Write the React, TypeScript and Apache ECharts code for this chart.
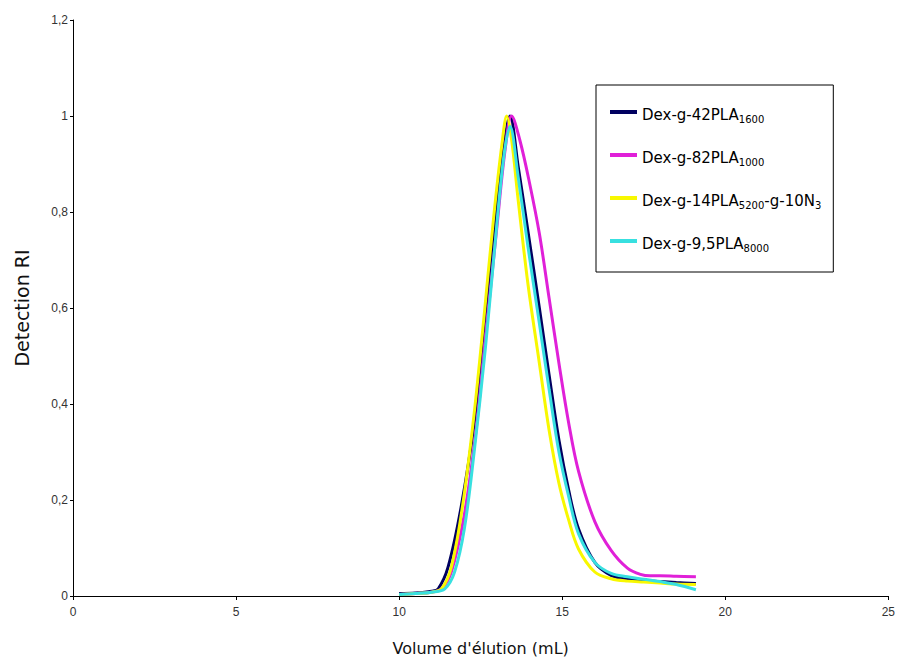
import React, { useEffect, useRef } from "react";
import * as echarts from "echarts";

const navyX = [10.0, 10.5, 11.0, 11.2, 11.5, 11.9, 12.3, 12.6, 12.95, 13.2, 13.4, 13.65, 13.95, 14.3, 14.6, 14.9, 15.2, 15.5, 16.0, 16.5, 17.0, 17.5, 18.0, 18.5, 19.1];
const navyY = [0.005, 0.006, 0.01, 0.015, 0.06, 0.185, 0.36, 0.56, 0.78, 0.93, 1.0, 0.895, 0.76, 0.6, 0.46, 0.325, 0.22, 0.14, 0.07, 0.043, 0.035, 0.032, 0.03, 0.028, 0.026];

const magentaX = [10.0, 10.5, 11.0, 11.3, 11.6, 12.0, 12.35, 12.65, 13.0, 13.25, 13.45, 13.7, 14.0, 14.3, 14.6, 14.9, 15.2, 15.5, 16.0, 16.5, 17.0, 17.4, 17.7, 18.0, 18.5, 19.1];
const magentaY = [0.003, 0.005, 0.008, 0.015, 0.05, 0.17, 0.34, 0.54, 0.77, 0.93, 1.0, 0.95, 0.86, 0.755, 0.62, 0.485, 0.36, 0.26, 0.155, 0.095, 0.058, 0.045, 0.042, 0.042, 0.041, 0.04];

const yellowX = [10.0, 10.5, 11.0, 11.3, 11.6, 11.95, 12.3, 12.6, 12.9, 13.15, 13.3, 13.45, 13.65, 13.95, 14.3, 14.6, 14.9, 15.2, 15.5, 16.0, 16.5, 17.0, 17.5, 18.0, 18.5, 19.1];
const yellowY = [0.003, 0.005, 0.008, 0.015, 0.06, 0.19, 0.38, 0.58, 0.79, 0.94, 1.0, 0.95, 0.825, 0.65, 0.485, 0.345, 0.235, 0.158, 0.098, 0.05, 0.036, 0.031, 0.029, 0.027, 0.025, 0.024];

const cyanX = [10.0, 10.5, 11.0, 11.4, 11.7, 12.0, 12.3, 12.65, 12.95, 13.2, 13.4, 13.65, 13.95, 14.3, 14.6, 14.9, 15.2, 15.5, 16.0, 16.5, 17.0, 17.5, 18.0, 18.5, 19.1];
const cyanY = [0.003, 0.005, 0.008, 0.015, 0.05, 0.14, 0.3, 0.52, 0.74, 0.91, 0.978, 0.873, 0.728, 0.568, 0.43, 0.3, 0.207, 0.13, 0.07, 0.047, 0.04, 0.035, 0.03, 0.024, 0.013];

const seriesNames = ["Dex-g-42PLA1600", "Dex-g-82PLA1000", "Dex-g-14PLA5200-g-10N3", "Dex-g-9,5PLA8000"];
const legendRich: Record<string, string> = {
  "Dex-g-42PLA1600": "{t|Dex-g-42PLA}{s|1600}",
  "Dex-g-82PLA1000": "{t|Dex-g-82PLA}{s|1000}",
  "Dex-g-14PLA5200-g-10N3": "{t|Dex-g-14PLA}{s|5200}{t|-g-10N}{s|3}",
  "Dex-g-9,5PLA8000": "{t|Dex-g-9,5PLA}{s|8000}",
};
const seriesColors = ["#000060", "#e020d8", "#f8f800", "#38e0e0"];

const pairs = (xs: number[], ys: number[]) => xs.map((x, i) => [x, ys[i]]);

export default function App() {
  const ref = useRef<HTMLDivElement>(null);
  useEffect(() => {
    if (!ref.current) return;
    const chart = echarts.init(ref.current, null, { renderer: "svg" });
    const data = [pairs(navyX, navyY), pairs(magentaX, magentaY), pairs(yellowX, yellowY), pairs(cyanX, cyanY)];
    const fontFamily = "DejaVu Sans";
    chart.setOption({
      animation: false,
      backgroundColor: "#ffffff",
      grid: { left: 73, right: 8, top: 20, bottom: 72 },
      legend: {
        orient: "vertical",
        left: 596,
        top: 85,
        padding: [22, 12, 19, 14],
        itemGap: 26,
        itemWidth: 27,
        itemHeight: 4,
        borderColor: "#000",
        borderWidth: 1,
        borderRadius: 0,
        backgroundColor: "#fff",
        data: seriesNames.map((n) => ({ name: n, icon: "rect" })),
        formatter: (name: string) => legendRich[name],
        textStyle: {
          rich: {
            t: { fontFamily, fontSize: 15, color: "#000", lineHeight: 20, verticalAlign: "bottom" },
            s: { fontFamily, fontSize: 10, color: "#000", lineHeight: 20, verticalAlign: "bottom", padding: [0, 0, -2, 0] },
          },
        },
      },
      xAxis: {
        type: "value",
        min: 0,
        max: 25,
        interval: 5,
        name: "Volume d'élution (mL)",
        nameLocation: "middle",
        nameGap: 44,
        nameTextStyle: { fontFamily, fontSize: 16, color: "#111" },
        axisLine: { lineStyle: { color: "#000", width: 1 } },
        axisTick: { show: true, length: 4, inside: false, lineStyle: { color: "#000" } },
        axisLabel: { fontFamily: "Liberation Sans", fontSize: 12, color: "#333", margin: 10 },
        splitLine: { show: false },
      },
      yAxis: {
        type: "value",
        min: 0,
        max: 1.2,
        interval: 0.2,
        name: "Detection RI",
        nameLocation: "middle",
        nameGap: 42,
        nameRotate: 90,
        nameTextStyle: { fontFamily, fontSize: 19, color: "#111" },
        axisLine: { show: true, lineStyle: { color: "#000", width: 1 } },
        axisTick: { show: true, length: 3, inside: false, lineStyle: { color: "#000" } },
        axisLabel: {
          fontFamily: "Liberation Sans",
          fontSize: 12,
          color: "#333",
          margin: 5,
          formatter: (v: number) => String(Math.round(v * 10) / 10).replace(".", ","),
        },
        splitLine: { show: false },
      },
      series: seriesNames.map((n, i) => ({
        name: n,
        type: "line",
        data: data[i],
        smooth: 0.35,
        symbol: "none",
        lineStyle: { color: seriesColors[i], width: 3 },
        itemStyle: { color: seriesColors[i] },
      })),
    });
    return () => chart.dispose();
  }, []);
  return (
    <div
      ref={ref}
      style={{ position: "fixed", left: 0, top: 0, width: 898, height: 668, background: "#fff" }}
    />
  );
}
